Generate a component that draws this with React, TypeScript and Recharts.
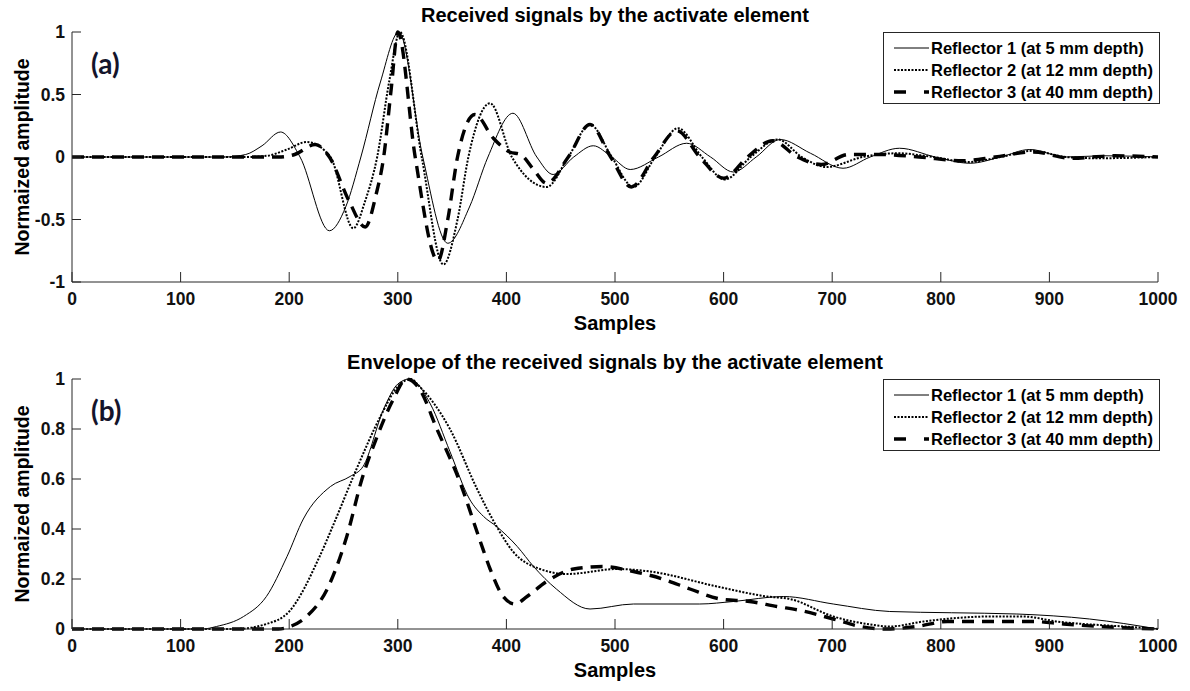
import { LineChart, Line, XAxis, YAxis, CartesianGrid } from "recharts";

const FONT = '"Liberation Sans", Arial, sans-serif';
const AXIS = "#262626";

const sampleTicks = [0, 100, 200, 300, 400, 500, 600, 700, 800, 900, 1000];
const signalTicks = [-1, -0.5, 0, 0.5, 1];
const envelopeTicks = [0, 0.2, 0.4, 0.6, 0.8, 1];

const reflectors = [
  "Reflector 1 (at 5 mm depth)",
  "Reflector 2 (at 12 mm depth)",
  "Reflector 3 (at 40 mm depth)",
];

// (a) received signals
const sigX1 = [0, 140, 160, 175, 192, 210, 237, 252, 266, 284, 301, 323, 346, 366, 383, 406, 428, 443, 462, 480, 497, 514, 540, 566, 588, 609, 630, 652, 680, 710, 735, 762, 795, 827, 855, 882, 915, 950, 1000];
const sigY1 = [0, 0, 0.02, 0.09, 0.2, 0, -0.59, -0.4, 0, 0.6, 1, 0, -0.69, -0.4, 0, 0.35, 0, -0.14, 0, 0.09, 0, -0.1, 0, 0.11, 0, -0.12, 0, 0.14, 0.03, -0.09, 0, 0.07, 0, -0.05, 0, 0.06, 0, 0.01, 0];

const sigX2 = [0, 160, 180, 198, 216, 238, 259, 270, 281, 292, 302, 322, 342, 355, 365, 385, 405, 437, 457, 477, 497, 517, 537, 558, 580, 601, 625, 650, 672, 695, 728, 760, 793, 825, 855, 885, 915, 945, 1000];
const sigY2 = [0, 0, 0.01, 0.06, 0.12, 0, -0.57, -0.35, 0, 0.6, 1, 0, -0.86, -0.5, 0, 0.43, 0, -0.24, 0, 0.26, 0, -0.24, 0, 0.23, 0, -0.18, 0, 0.14, 0, -0.08, 0, 0.03, 0, -0.04, 0, 0.05, 0, -0.01, 0];

const sigX3 = [0, 190, 205, 224, 237, 255, 270, 280, 287, 294, 300, 316, 337, 346, 355, 371, 388, 403, 413, 425, 437, 457, 477, 496, 515, 536, 557, 578, 600, 622, 645, 668, 690, 715, 745, 780, 820, 850, 885, 920, 960, 1000];
const sigY3 = [0, 0, 0.02, 0.1, 0, -0.35, -0.56, -0.3, 0, 0.55, 1, 0, -0.83, -0.5, 0, 0.34, 0.15, 0.04, 0.02, -0.1, -0.21, 0, 0.26, 0, -0.24, 0, 0.21, 0, -0.17, 0, 0.13, 0, -0.06, 0.02, 0.02, 0, -0.03, 0, 0.04, -0.01, 0.01, 0];

// (b) envelopes
const envX1 = [0, 120, 133, 158, 179, 198, 213, 238, 256, 268, 287, 300, 311, 330, 348, 366, 379, 391, 410, 425, 446, 477, 517, 578, 609, 655, 701, 753, 810, 870, 937, 1000];
const envY1 = [0, 0, 0.01, 0.05, 0.13, 0.29, 0.44, 0.57, 0.61, 0.65, 0.88, 0.98, 1, 0.9, 0.71, 0.52, 0.45, 0.41, 0.33, 0.25, 0.16, 0.08, 0.1, 0.1, 0.11, 0.13, 0.1, 0.07, 0.065, 0.06, 0.04, 0];

const envX2 = [0, 150, 179, 200, 228, 240, 262, 284, 300, 312, 320, 348, 373, 391, 406, 431, 456, 502, 532, 594, 640, 661, 701, 732, 753, 784, 845, 876, 907, 968, 1000];
const envY2 = [0, 0, 0.02, 0.07, 0.29, 0.41, 0.64, 0.85, 0.97, 1, 0.97, 0.8, 0.56, 0.41, 0.31, 0.24, 0.22, 0.24, 0.23, 0.17, 0.13, 0.12, 0.05, 0.02, 0.01, 0.03, 0.05, 0.05, 0.03, 0.01, 0];

const envX3 = [0, 190, 201, 216, 235, 253, 267, 281, 296, 308, 320, 336, 357, 376, 385, 397, 408, 419, 437, 462, 489, 517, 544, 569, 597, 624, 649, 670, 701, 726, 750, 778, 806, 861, 885, 913, 968, 1000];
const envY3 = [0, 0, 0.01, 0.05, 0.16, 0.37, 0.6, 0.77, 0.92, 1, 0.96, 0.8, 0.59, 0.35, 0.24, 0.13, 0.1, 0.13, 0.19, 0.24, 0.25, 0.23, 0.2, 0.16, 0.12, 0.11, 0.09, 0.075, 0.04, 0.01, 0, 0.01, 0.03, 0.03, 0.03, 0.02, 0.005, 0];

const zip = (xs: number[], ys: number[]) => xs.map((x, i) => ({ x, y: ys[i] }));

const lineStyles = [
  { strokeWidth: 1, dash: undefined as string | undefined },
  { strokeWidth: 2, dash: "2 1.5" },
  { strokeWidth: 3.4, dash: "12 8" },
];

const tickFont = { fontSize: 17.5, fontWeight: 700, fill: "#111", fontFamily: FONT };
const noLabel = () => "";

function Legend({ top }: { top: number }) {
  return (
    <div
      style={{
        position: "absolute",
        left: 883,
        top,
        width: 275,
        height: 70,
        border: `1px solid ${AXIS}`,
        background: "#fff",
        fontFamily: FONT,
        fontWeight: 700,
        fontSize: 16.5,
      }}
    >
      {reflectors.map((name, i) => (
        <div
          key={name}
          style={{ position: "absolute", left: 0, top: 4 + i * 22, height: 22, display: "flex", alignItems: "center", whiteSpace: "nowrap" }}
        >
          <svg width={46} height={22}>
            <line
              x1={10}
              x2={45}
              y1={11}
              y2={11}
              stroke="#000"
              strokeWidth={lineStyles[i].strokeWidth}
              strokeDasharray={i === 2 ? "12 18" : lineStyles[i].dash}
            />
          </svg>
          <span style={{ marginLeft: 1 }}>{name}</span>
        </div>
      ))}
    </div>
  );
}

interface PanelProps {
  top: number;
  height: number;
  marginTop: number;
  series: { x: number; y: number }[][];
  yTicks: number[];
  title: string;
  tag: string;
}

function Panel({ top, height, marginTop, series, yTicks, title, tag }: PanelProps) {
  const plotTop = top + marginTop;
  const plotBottom = plotTop + 250;
  const bottomMargin = height - marginTop - 250 - 30;
  const yDomain = [yTicks[0], yTicks[yTicks.length - 1]];
  return (
    <>
      <div style={{ position: "absolute", left: 0, top }}>
        <LineChart width={1190} height={height} margin={{ top: marginTop, right: 32, bottom: bottomMargin, left: 12 }}>
          <CartesianGrid stroke="#dedede" strokeWidth={1} horizontalValues={yTicks} verticalValues={sampleTicks} />
          <XAxis
            xAxisId="b"
            dataKey="x"
            type="number"
            domain={[0, 1000]}
            ticks={sampleTicks}
            height={30}
            stroke={AXIS}
            tickSize={-10}
            tickMargin={21}
            tick={tickFont}
            interval={0}
          />
          <XAxis
            xAxisId="t"
            orientation="top"
            dataKey="x"
            type="number"
            domain={[0, 1000]}
            ticks={sampleTicks}
            height={0}
            stroke={AXIS}
            tickSize={-10}
            tickFormatter={noLabel}
            interval={0}
          />
          <YAxis
            yAxisId="l"
            type="number"
            domain={yDomain}
            ticks={yTicks}
            width={60}
            stroke={AXIS}
            tickSize={-9}
            tickMargin={16}
            tick={tickFont}
            interval={0}
          />
          <YAxis
            yAxisId="r"
            orientation="right"
            type="number"
            domain={yDomain}
            ticks={yTicks}
            width={0}
            stroke={AXIS}
            tickSize={-9}
            tickFormatter={noLabel}
            interval={0}
          />
          {series.map((d, i) => (
            <Line
              key={i}
              data={d}
              xAxisId="b"
              yAxisId="l"
              dataKey="y"
              type="monotone"
              stroke="#000"
              strokeWidth={lineStyles[i].strokeWidth}
              strokeDasharray={lineStyles[i].dash}
              dot={false}
              activeDot={false}
              isAnimationActive={false}
            />
          ))}
        </LineChart>
      </div>
      <div
        style={{
          position: "absolute",
          left: 615,
          top: plotTop - 17,
          transform: "translate(-50%, -50%)",
          fontFamily: FONT,
          fontWeight: 700,
          fontSize: 20,
          whiteSpace: "nowrap",
        }}
      >
        {title}
      </div>
      <div
        style={{
          position: "absolute",
          left: 615,
          top: plotBottom + 41,
          transform: "translate(-50%, -50%)",
          fontFamily: FONT,
          fontWeight: 700,
          fontSize: 20,
        }}
      >
        Samples
      </div>
      <div
        style={{
          position: "absolute",
          left: 22,
          top: (plotTop + plotBottom) / 2,
          transform: "translate(-50%, -50%) rotate(-90deg)",
          fontFamily: FONT,
          fontWeight: 700,
          fontSize: 19.5,
          whiteSpace: "nowrap",
        }}
      >
        Normaized amplitude
      </div>
      <div
        style={{
          position: "absolute",
          left: 91,
          top: plotTop + 14,
          fontFamily: "Lato, sans-serif",
          fontWeight: 700,
          fontSize: 28,
          color: "#14142b",
        }}
      >
        {tag}
      </div>
      <Legend top={plotTop} />
    </>
  );
}

export default function App() {
  const sig = [zip(sigX1, sigY1), zip(sigX2, sigY2), zip(sigX3, sigY3)];
  const env = [zip(envX1, envY1), zip(envX2, envY2), zip(envX3, envY3)];
  return (
    <div style={{ position: "absolute", left: 0, top: 0, width: 1190, height: 691, background: "#fff", overflow: "hidden" }}>
      <Panel
        top={0}
        height={340}
        marginTop={32}
        series={sig}
        yTicks={signalTicks}
        title="Received signals by the activate element"
        tag="(a)"
      />
      <Panel
        top={340}
        height={351}
        marginTop={39}
        series={env}
        yTicks={envelopeTicks}
        title="Envelope of the received signals by the activate element"
        tag="(b)"
      />
    </div>
  );
}
